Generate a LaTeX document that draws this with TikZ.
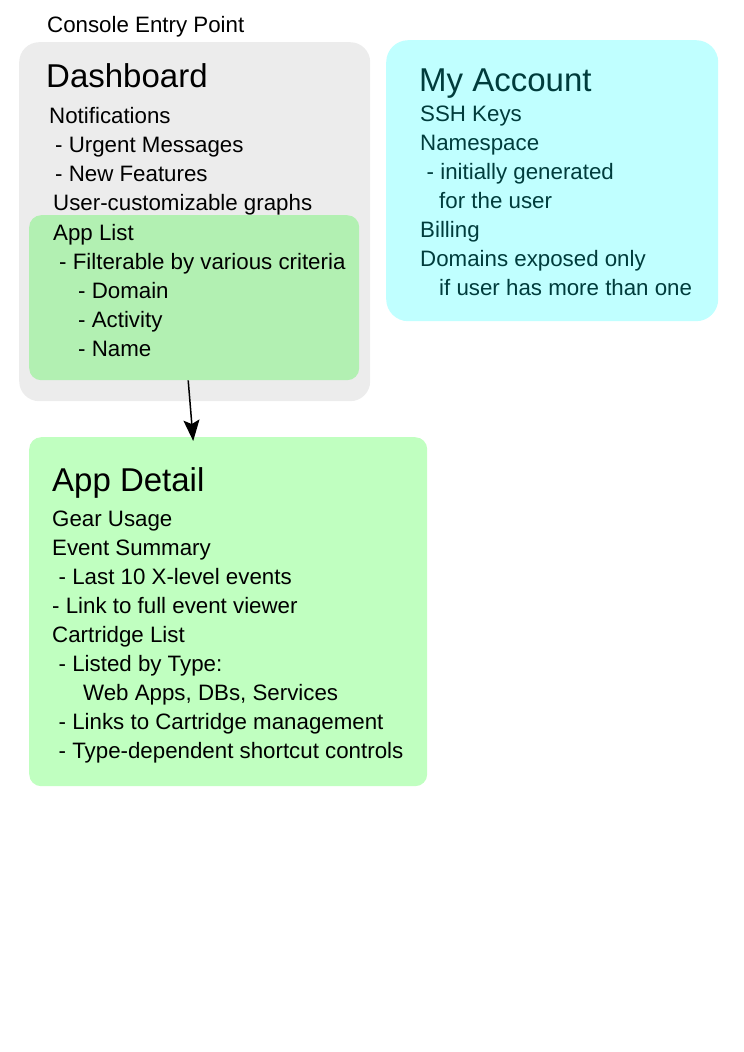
\documentclass[tikz,border=0pt]{standalone}
\usepackage{fontspec}
\setmainfont{Liberation Sans}
\usetikzlibrary{arrows.meta, positioning}
\definecolor{dashgray}{RGB}{236,236,236}
\definecolor{listgreen}{RGB}{178,240,178}
\definecolor{detailgreen}{RGB}{192,255,192}
\definecolor{accountcyan}{RGB}{192,255,255}
\definecolor{accountteal}{RGB}{0,60,60}
\tikzset{
  x=1pt, y=-1pt, % work in picture pixels, top down
  panel/.style={rectangle, anchor=north west, inner sep=0pt, draw=none}, % the rounded boxes
  heading/.style={anchor=base west, inner sep=0pt, font=\fontsize{33}{40}\selectfont}, % box titles
  listing/.style={anchor=base west, inner sep=0pt, align=left, font=\fontsize{22.3}{29}\selectfont} % item lists, placed by their last line
}
\begin{document}
\begin{tikzpicture}
    \useasboundingbox (0,0) rectangle (744,1052);

    \node[panel, fill=dashgray, rounded corners=20pt, minimum width=351pt, minimum height=359pt] (dashboard) at (19,42) {};
    \node[panel, fill=listgreen, rounded corners=12pt, minimum width=330pt, minimum height=165pt] (applist) at (29,215) {};
    \node[panel, fill=accountcyan, rounded corners=22pt, minimum width=332pt, minimum height=281pt] (account) at (386,40) {};
    \node[panel, fill=detailgreen, rounded corners=12pt, minimum width=398pt, minimum height=349pt] (appdetail) at (29,437) {};

    \node[listing] (entry) at (47,32) {Console Entry Point};

    \node[heading] (dash_title) at (46,87) {Dashboard};
    \node[listing] (dash_items) at (49,210) {Notifications\\
      \hspace*{6pt}- Urgent Messages\\
      \hspace*{6pt}- New Features\\
      \hspace*{4pt}User-customizable graphs};
    \node[listing] (list_items) at (53,356) {App List\\
      \hspace*{6pt}- Filterable by various criteria\\
      \hspace*{25pt}- Domain\\
      \hspace*{25pt}- Activity\\
      \hspace*{25pt}- Name};

    \node[heading, text=accountteal] (account_title) at (419,91) {My Account};
    \node[listing, text=accountteal] (account_items) at (420,295) {SSH Keys\\
      Namespace\\
      \hspace*{6.5pt}- initially generated\\
      \hspace*{19pt}for the user\\
      Billing\\
      Domains exposed only\\
      \hspace*{19pt}if user has more than one};

    \node[heading] (detail_title) at (52,491) {App Detail};
    \node[listing] (detail_items) at (52,758) {Gear Usage\\
      Event Summary\\
      \hspace*{6.5pt}- Last 10 X-level events\\
      - Link to full event viewer\\
      Cartridge List\\
      \hspace*{6.5pt}- Listed by Type:\\
      \hspace*{31pt}Web Apps, DBs, Services\\
      \hspace*{6.5pt}- Links to Cartridge management\\
      \hspace*{6.5pt}- Type-dependent shortcut controls};

    \draw[-{Stealth[length=21pt, width=16pt, inset=4pt]}, line width=1.5pt]
      ([xshift=-6pt]applist.south) -- ([xshift=-35pt, yshift=-4pt]appdetail.north);
\end{tikzpicture}
\end{document}
